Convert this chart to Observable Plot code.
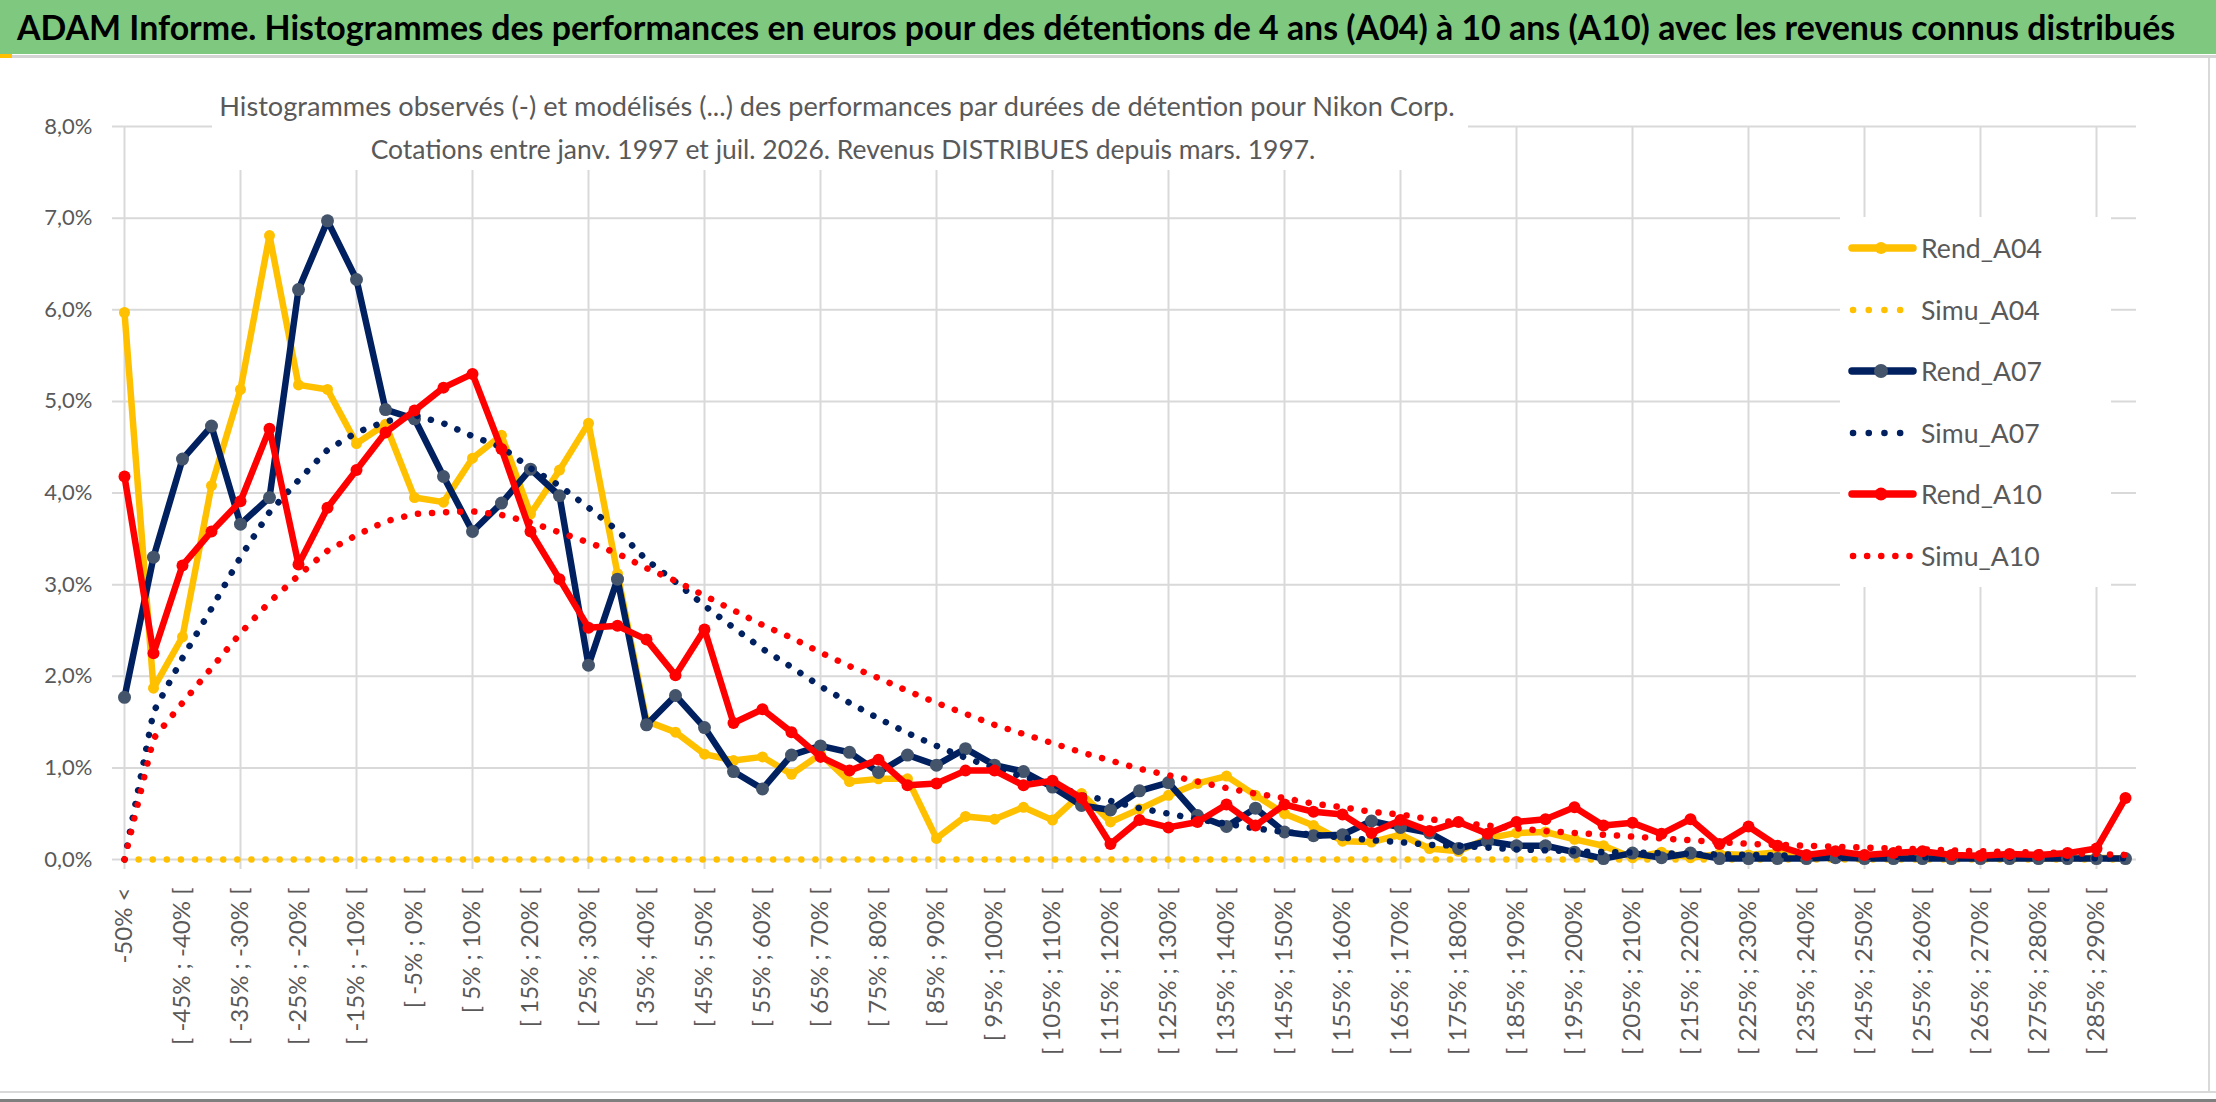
<!DOCTYPE html>
<html><head><meta charset="utf-8">
<script src="https://cdn.jsdelivr.net/npm/d3@7"></script>
<script src="https://cdn.jsdelivr.net/npm/@observablehq/plot@0.6"></script>
<style>
body{margin:0;background:#fff;font-family:Lato,"Open Sans",sans-serif;}
#page{position:relative;width:2216px;height:1102px;overflow:hidden;background:#fff;}
#titlebar{position:absolute;left:0;top:0;width:2216px;height:54px;background:#7fc87f;}
#titleline{position:absolute;left:0;top:55px;width:2216px;height:3px;background:#d4d4d4;}
#mark{position:absolute;left:0;top:54px;width:12px;height:4px;background:#FFC000;}
#title{position:absolute;left:17px;top:0;line-height:54px;font-weight:700;color:#000;white-space:nowrap;font-size:32px;}
#chart{position:absolute;left:0;top:60px;}
#subbox{position:absolute;left:212px;top:59px;width:1256px;height:111px;background:#fff;}
.sub{position:absolute;white-space:nowrap;color:#595959;font-size:28px;transform:translate(-50%,-50%);line-height:1;}
#legend{position:absolute;left:1840px;top:217px;width:271px;height:370px;background:#fff;}
.lg{position:absolute;left:0;height:40px;width:271px;}
.lg svg{position:absolute;left:0;top:0;}
.lg span{position:absolute;left:81px;top:50%;transform:translateY(-50%);white-space:nowrap;color:#595959;font-size:27px;line-height:1;}
#rborder{position:absolute;left:2208px;top:58px;width:2px;height:1034px;background:#d9d9d9;}
#bline1{position:absolute;left:0;top:1091px;width:2216px;height:2px;background:#d9d9d9;}
#bline2{position:absolute;left:0;top:1099px;width:2216px;height:3px;background:#7f7f7f;}
</style></head>
<body>
<div id="page">
  <div id="titlebar"></div>
  <div id="titleline"></div>
  <div id="mark"></div>
  <div id="title">ADAM Informe. Histogrammes des performances en euros pour des détentions de 4 ans (A04) à 10 ans (A10) avec les revenus connus distribués</div>
  <div id="chart"></div>
  <div id="subbox"></div>
  <div id="sub1" class="sub" style="left:837px;top:106px;">Histogrammes observés (-) et modélisés (...) des performances par durées de détention pour Nikon Corp.</div>
  <div id="sub2" class="sub" style="left:843px;top:149px;">Cotations entre janv. 1997 et juil. 2026. Revenus DISTRIBUES depuis mars. 1997.</div>
  <div id="legend"></div>
  <div id="rborder"></div>
  <div id="bline1"></div>
  <div id="bline2"></div>
</div>
<script>
const categories = [
"-50% <","[ -50% ; -45% [","[ -45% ; -40% [","[ -40% ; -35% [","[ -35% ; -30% [","[ -30% ; -25% [",
"[ -25% ; -20% [","[ -20% ; -15% [","[ -15% ; -10% [","[ -10% ; -5% [","[ -5% ; 0% [","[ 0% ; 5% [",
"[ 5% ; 10% [","[ 10% ; 15% [","[ 15% ; 20% [","[ 20% ; 25% [","[ 25% ; 30% [","[ 30% ; 35% [",
"[ 35% ; 40% [","[ 40% ; 45% [","[ 45% ; 50% [","[ 50% ; 55% [","[ 55% ; 60% [","[ 60% ; 65% [",
"[ 65% ; 70% [","[ 70% ; 75% [","[ 75% ; 80% [","[ 80% ; 85% [","[ 85% ; 90% [","[ 90% ; 95% [",
"[ 95% ; 100% [","[ 100% ; 105% [","[ 105% ; 110% [","[ 110% ; 115% [","[ 115% ; 120% [","[ 120% ; 125% [",
"[ 125% ; 130% [","[ 130% ; 135% [","[ 135% ; 140% [","[ 140% ; 145% [","[ 145% ; 150% [","[ 150% ; 155% [",
"[ 155% ; 160% [","[ 160% ; 165% [","[ 165% ; 170% [","[ 170% ; 175% [","[ 175% ; 180% [","[ 180% ; 185% [",
"[ 185% ; 190% [","[ 190% ; 195% [","[ 195% ; 200% [","[ 200% ; 205% [","[ 205% ; 210% [","[ 210% ; 215% [",
"[ 215% ; 220% [","[ 220% ; 225% [","[ 225% ; 230% [","[ 230% ; 235% [","[ 235% ; 240% [","[ 240% ; 245% [",
"[ 245% ; 250% [","[ 250% ; 255% [","[ 255% ; 260% [","[ 260% ; 265% [","[ 265% ; 270% [","[ 270% ; 275% [",
"[ 275% ; 280% [","[ 280% ; 285% [","[ 285% ; 290% [","290% >"];

const yTicks = [0,1,2,3,4,5,6,7,8];

const rendA04 = [5.97,1.87,2.43,4.08,5.13,6.81,5.18,5.13,4.54,4.75,3.95,3.90,4.38,4.63,3.77,4.25,4.76,3.12,1.51,1.39,
1.15,1.08,1.12,0.93,1.15,0.85,0.88,0.88,0.23,0.47,0.44,0.57,0.43,0.72,0.41,0.55,0.70,0.83,0.91,0.70,
0.50,0.37,0.20,0.19,0.27,0.12,0.09,0.23,0.29,0.30,0.22,0.15,0.02,0.08,0.02,0.06,0.05,0.08,0.04,0.03,
0.02,0.05,0.02,0.03,0.01,0.02,0.01,0.01,0.02,0.01];
const simuA04 = [0,0,0,0,0,0,0,0,0,0,0,0,0,0,0,0,0,0,0,0,
0,0,0,0,0,0,0,0,0,0,0,0,0,0,0,0,0,0,0,0,
0,0,0,0,0,0,0,0,0,0,0,0,0,0,0,0,0,0,0,0,
0,0,0,0,0,0,0,0,0,0];
const rendA07 = [1.77,3.30,4.37,4.73,3.66,3.95,6.22,6.97,6.33,4.91,4.81,4.18,3.58,3.89,4.26,3.97,2.12,3.06,1.47,1.79,
1.44,0.96,0.77,1.14,1.24,1.17,0.95,1.14,1.03,1.21,1.03,0.96,0.79,0.59,0.54,0.75,0.84,0.48,0.36,0.56,
0.30,0.26,0.27,0.42,0.35,0.29,0.12,0.20,0.15,0.15,0.08,0.01,0.07,0.02,0.07,0.01,0.01,0.01,0.01,0.02,
0.01,0.01,0.01,0.01,0.01,0.01,0.01,0.01,0.01,0.01];
const simuA07 = [0,1.61,2.20,2.74,3.30,3.79,4.14,4.47,4.66,4.78,4.85,4.76,4.62,4.50,4.27,4.08,3.84,3.59,3.27,3.03,
2.77,2.53,2.30,2.10,1.89,1.71,1.54,1.38,1.24,1.11,1.00,0.90,0.82,0.70,0.64,0.56,0.50,0.44,0.39,0.34,
0.30,0.27,0.24,0.21,0.19,0.16,0.15,0.13,0.11,0.10,0.09,0.08,0.075,0.07,0.06,0.055,0.05,0.045,0.04,0.035,
0.03,0.03,0.025,0.025,0.02,0.02,0.02,0.015,0.015,0.015];
const rendA10 = [4.18,2.25,3.21,3.58,3.91,4.70,3.22,3.84,4.25,4.66,4.90,5.15,5.30,4.48,3.58,3.06,2.53,2.55,2.40,2.01,
2.51,1.49,1.64,1.39,1.12,0.97,1.09,0.81,0.83,0.97,0.97,0.81,0.86,0.67,0.17,0.43,0.35,0.41,0.60,0.37,
0.60,0.52,0.49,0.29,0.43,0.31,0.41,0.28,0.41,0.44,0.57,0.37,0.40,0.28,0.44,0.17,0.36,0.15,0.05,0.09,
0.05,0.07,0.09,0.05,0.04,0.06,0.05,0.07,0.12,0.67];
const simuA10 = [0,1.32,1.71,2.09,2.47,2.81,3.10,3.37,3.54,3.69,3.77,3.79,3.80,3.76,3.68,3.57,3.46,3.34,3.18,3.04,
2.88,2.72,2.56,2.42,2.26,2.11,1.98,1.84,1.71,1.59,1.47,1.37,1.27,1.17,1.08,0.99,0.92,0.85,0.78,0.72,
0.67,0.61,0.57,0.52,0.49,0.44,0.40,0.37,0.34,0.31,0.29,0.27,0.25,0.23,0.21,0.19,0.17,0.16,0.15,0.14,
0.13,0.12,0.11,0.10,0.09,0.08,0.08,0.07,0.06,0.05];

const seriesNames = ["Rend_A04","Simu_A04","Rend_A07","Simu_A07","Rend_A10","Simu_A10"];
const seriesColors = ["#FFC000","#FFC000","#002060","#002060","#FF0000","#FF0000"];
const markerColors = ["#FFC000",null,"#44546A",null,"#FF0000",null];
const markerRadii = [5.5, 0, 6.5, 0, 6, 0];
const seriesValues = [rendA04, simuA04, rendA07, simuA07, rendA10, simuA10];

const fmt = v => v.toFixed(1).replace(".", ",") + "%";
const labelTicks = categories.filter((d,i) => i % 2 === 0);
const gridTicks = categories.filter((d,i) => i % 4 === 0);

const marks = [
  Plot.gridY(yTicks, {stroke: "#d9d9d9", strokeOpacity: 1, strokeWidth: 2}),
  Plot.gridX(gridTicks, {stroke: "#d9d9d9", strokeOpacity: 1, strokeWidth: 2}),
  Plot.axisX(gridTicks, {tickSize: 10, text: null, stroke: "#d9d9d9", strokeWidth: 2}),
  Plot.axisX(labelTicks, {tickSize: 0, tickPadding: 28, tickRotate: -90, fontSize: 24, fill: "#595959"}),
  Plot.axisY(yTicks, {tickSize: 0, tickPadding: 20, tickFormat: fmt, fontSize: 22, fill: "#595959"})
];
seriesNames.forEach((name, k) => {
  const vals = seriesValues[k];
  if (markerColors[k]) {
    marks.push(Plot.line(categories, {x: categories, y: vals, stroke: seriesColors[k], strokeWidth: 6.5, strokeLinejoin: "round", strokeLinecap: "round"}));
    marks.push(Plot.dot(categories, {x: categories, y: vals, r: markerRadii[k], fill: markerColors[k], stroke: "none"}));
  } else {
    marks.push(Plot.line(categories, {x: categories, y: vals, stroke: seriesColors[k], strokeWidth: 6.5, strokeDasharray: "0.1 14", strokeLinecap: "round"}));
  }
});

const chart = Plot.plot({
  width: 2216, height: 1032,
  marginLeft: 112, marginRight: 80, marginTop: 66, marginBottom: 233,
  x: {type: "point", domain: categories, padding: 0},
  y: {domain: [0, 8]},
  style: {fontFamily: "Lato, 'Open Sans', sans-serif", color: "#595959", background: "transparent"},
  marks
});
document.getElementById("chart").appendChild(chart);

// legend
const legend = document.getElementById("legend");
const legendY = [31, 93, 154, 216, 277, 339];
seriesNames.forEach((name, k) => {
  const row = document.createElement("div");
  row.className = "lg";
  row.style.top = (legendY[k] - 20) + "px";
  const ns = "http://www.w3.org/2000/svg";
  const svg = document.createElementNS(ns, "svg");
  svg.setAttribute("width", 80); svg.setAttribute("height", 40);
  const ln = document.createElementNS(ns, "line");
  ln.setAttribute("y1", 20); ln.setAttribute("y2", 20);
  ln.setAttribute("stroke", seriesColors[k]);
  ln.setAttribute("stroke-linecap", "round");
  if (markerColors[k]) {
    ln.setAttribute("x1", 12); ln.setAttribute("x2", 73);
    ln.setAttribute("stroke-width", 7.5);
    svg.appendChild(ln);
    const c = document.createElementNS(ns, "circle");
    c.setAttribute("cx", 41); c.setAttribute("cy", 20); c.setAttribute("r", markerRadii[k] + 0.5);
    c.setAttribute("fill", markerColors[k]);
    svg.appendChild(c);
  } else {
    const step = k === 5 ? 14 : 15.6;
    ln.setAttribute("x1", 13); ln.setAttribute("x2", k === 5 ? 70 : 62);
    ln.setAttribute("stroke-width", 6.5);
    ln.setAttribute("stroke-dasharray", "0.1 " + step);
    svg.appendChild(ln);
  }
  row.appendChild(svg);
  const sp = document.createElement("span");
  sp.textContent = name;
  row.appendChild(sp);
  legend.appendChild(row);
});

function fit(el, target) {
  const w = el.getBoundingClientRect().width;
  const fs = parseFloat(getComputedStyle(el).fontSize);
  if (w > 0) el.style.fontSize = (fs * target / w) + "px";
}
fit(document.getElementById("title"), 2159);
fit(document.getElementById("sub1"), 1236);
fit(document.getElementById("sub2"), 945);
const spans = legend.querySelectorAll("span");
const w0 = spans[0].getBoundingClientRect().width;
const fs0 = parseFloat(getComputedStyle(spans[0]).fontSize);
spans.forEach(s => s.style.fontSize = (fs0 * 121 / w0) + "px");
</script>
</body></html>
